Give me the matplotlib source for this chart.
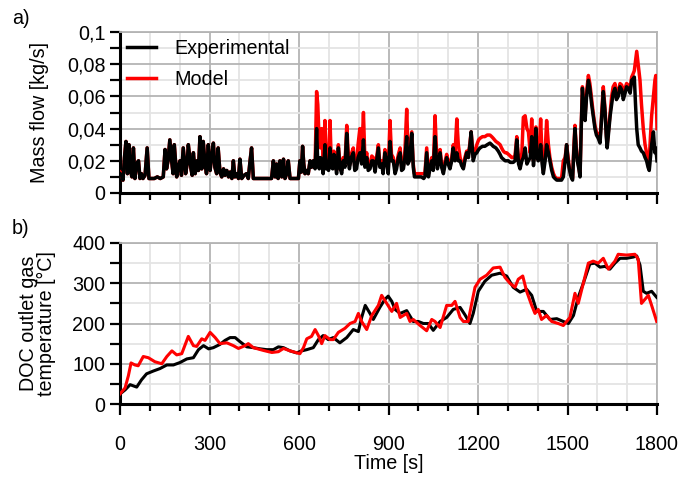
"""
Mass flow and DOC outlet gas temperature: experimental vs model over the cycle.
Saves out.png (679x478 px).
"""

import matplotlib
matplotlib.use("Agg")

import matplotlib.pyplot as plt
from matplotlib.ticker import FuncFormatter, MultipleLocator

# ---- a) mass flow [kg/s] ----
t_flow = [
    0, 5, 10, 15, 20, 25, 30, 35, 40, 45,
    50, 56, 62, 67, 72, 77, 84, 91, 97, 105,
    115, 125, 135, 145, 151, 156, 161, 167, 173, 178,
    182, 190, 195, 201, 206, 212, 220, 225, 229, 238,
    242, 246, 252, 258, 263, 268, 274, 279, 285, 290,
    296, 302, 307, 313, 318, 324, 329, 335, 341, 347,
    352, 358, 364, 369, 375, 380, 385, 392, 397, 402,
    408, 416, 424, 430, 436, 441, 447, 455, 470, 485,
    500, 508, 514, 520, 525, 530, 536, 542, 548, 553,
    559, 564, 570, 580, 590, 598, 603, 608, 612, 616,
    620, 626, 631, 637, 642, 648, 654, 659, 663, 668,
    672, 676, 681, 687, 691, 695, 699, 704, 708, 713,
    717, 721, 726, 732, 737, 743, 748, 754, 760, 765,
    769, 775, 782, 787, 793, 798, 804, 810, 816, 821,
    827, 832, 838, 844, 849, 855, 860, 866, 871, 877,
    882, 888, 893, 899, 905, 910, 916, 922, 927, 933,
    939, 944, 950, 955, 961, 965, 970, 974, 978, 983,
    987, 991, 1000, 1010, 1018, 1022, 1028, 1034, 1040, 1045,
    1050, 1056, 1060, 1064, 1068, 1073, 1078, 1084, 1090, 1095,
    1100, 1106, 1112, 1117, 1123, 1129, 1134, 1140, 1145, 1151,
    1156, 1162, 1168, 1173, 1177, 1184, 1190, 1196, 1202, 1207,
    1215, 1223, 1231, 1240, 1246, 1251, 1260, 1268, 1274, 1279,
    1285, 1291, 1296, 1302, 1308, 1313, 1318, 1324, 1330, 1336,
    1341, 1347, 1352, 1358, 1364, 1369, 1375, 1380, 1386, 1390,
    1394, 1398, 1402, 1406, 1410, 1415, 1419, 1425, 1430, 1436,
    1441, 1447, 1453, 1458, 1464, 1472, 1480, 1486, 1492, 1497,
    1502, 1506, 1512, 1517, 1521, 1525, 1529, 1533, 1538, 1542,
    1546, 1550, 1555, 1559, 1564, 1570, 1575, 1581, 1586, 1592,
    1597, 1603, 1609, 1614, 1620, 1626, 1630, 1633, 1638, 1643,
    1648, 1653, 1659, 1664, 1670, 1676, 1682, 1687, 1693, 1698,
    1704, 1710, 1715, 1720, 1724, 1728, 1732, 1737, 1743, 1748,
    1754, 1760, 1765, 1770, 1774, 1778, 1782, 1788, 1793, 1796,
    1800,
]
flow_exp = [
    0.012, 0.011, 0.008, 0.022, 0.032, 0.012, 0.030, 0.014, 0.010, 0.028,
    0.009, 0.018, 0.020, 0.009, 0.012, 0.009, 0.011, 0.028, 0.009, 0.009,
    0.009, 0.010, 0.009, 0.010, 0.027, 0.015, 0.020, 0.033, 0.020, 0.012,
    0.030, 0.010, 0.016, 0.020, 0.011, 0.028, 0.012, 0.018, 0.030, 0.015,
    0.011, 0.025, 0.012, 0.020, 0.014, 0.035, 0.015, 0.032, 0.018, 0.012,
    0.030, 0.014, 0.022, 0.031, 0.016, 0.012, 0.028, 0.013, 0.010, 0.015,
    0.011, 0.014, 0.010, 0.013, 0.009, 0.020, 0.010, 0.012, 0.009, 0.021,
    0.009, 0.011, 0.012, 0.009, 0.020, 0.028, 0.009, 0.009, 0.009, 0.009,
    0.009, 0.009, 0.020, 0.010, 0.018, 0.009, 0.020, 0.010, 0.021, 0.009,
    0.012, 0.020, 0.009, 0.009, 0.009, 0.009, 0.020, 0.013, 0.029, 0.018,
    0.012, 0.014, 0.012, 0.020, 0.016, 0.020, 0.015, 0.040, 0.018, 0.015,
    0.022, 0.020, 0.012, 0.030, 0.015, 0.018, 0.014, 0.028, 0.016, 0.015,
    0.024, 0.020, 0.012, 0.028, 0.016, 0.012, 0.020, 0.016, 0.037, 0.020,
    0.015, 0.022, 0.025, 0.014, 0.015, 0.022, 0.025, 0.018, 0.033, 0.016,
    0.022, 0.014, 0.015, 0.020, 0.020, 0.013, 0.020, 0.028, 0.016, 0.018,
    0.012, 0.025, 0.020, 0.012, 0.032, 0.020, 0.020, 0.012, 0.015, 0.022,
    0.025, 0.014, 0.015, 0.022, 0.035, 0.018, 0.020, 0.028, 0.037, 0.016,
    0.010, 0.010, 0.010, 0.010, 0.009, 0.010, 0.025, 0.010, 0.016, 0.020,
    0.014, 0.035, 0.022, 0.015, 0.020, 0.025, 0.016, 0.012, 0.018, 0.022,
    0.018, 0.015, 0.020, 0.028, 0.020, 0.025, 0.020, 0.020, 0.017, 0.015,
    0.020, 0.025, 0.022, 0.030, 0.038, 0.020, 0.024, 0.025, 0.027, 0.028,
    0.029, 0.029, 0.030, 0.031, 0.030, 0.029, 0.028, 0.026, 0.024, 0.022,
    0.021, 0.020, 0.020, 0.020, 0.019, 0.019, 0.019, 0.020, 0.033, 0.018,
    0.015, 0.020, 0.022, 0.028, 0.018, 0.020, 0.022, 0.035, 0.017, 0.025,
    0.040, 0.022, 0.020, 0.022, 0.030, 0.018, 0.012, 0.020, 0.030, 0.025,
    0.020, 0.014, 0.010, 0.009, 0.008, 0.008, 0.008, 0.010, 0.020, 0.030,
    0.020, 0.015, 0.010, 0.008, 0.025, 0.040, 0.028, 0.020, 0.015, 0.010,
    0.040, 0.065, 0.050, 0.045, 0.060, 0.070, 0.065, 0.055, 0.048, 0.040,
    0.036, 0.034, 0.031, 0.045, 0.063, 0.050, 0.035, 0.028, 0.038, 0.048,
    0.055, 0.062, 0.065, 0.058, 0.060, 0.066, 0.064, 0.058, 0.062, 0.066,
    0.065, 0.062, 0.070, 0.071, 0.072, 0.055, 0.040, 0.030, 0.028, 0.026,
    0.025, 0.022, 0.020, 0.016, 0.014, 0.022, 0.030, 0.038, 0.025, 0.028,
    0.020,
]
flow_model = [
    0.013, 0.012, 0.008, 0.022, 0.032, 0.012, 0.030, 0.014, 0.010, 0.028,
    0.009, 0.018, 0.020, 0.009, 0.012, 0.009, 0.011, 0.028, 0.009, 0.009,
    0.009, 0.010, 0.009, 0.010, 0.027, 0.015, 0.020, 0.033, 0.020, 0.012,
    0.030, 0.010, 0.016, 0.020, 0.011, 0.028, 0.012, 0.018, 0.030, 0.015,
    0.011, 0.025, 0.012, 0.020, 0.014, 0.035, 0.015, 0.032, 0.018, 0.012,
    0.030, 0.014, 0.022, 0.031, 0.016, 0.012, 0.028, 0.013, 0.010, 0.015,
    0.011, 0.014, 0.010, 0.013, 0.009, 0.020, 0.010, 0.012, 0.009, 0.021,
    0.009, 0.011, 0.012, 0.009, 0.020, 0.028, 0.009, 0.009, 0.009, 0.009,
    0.009, 0.009, 0.020, 0.010, 0.018, 0.009, 0.020, 0.010, 0.021, 0.009,
    0.012, 0.020, 0.009, 0.009, 0.009, 0.009, 0.020, 0.013, 0.029, 0.018,
    0.012, 0.014, 0.012, 0.020, 0.016, 0.020, 0.017, 0.063, 0.055, 0.030,
    0.028, 0.040, 0.020, 0.045, 0.022, 0.025, 0.018, 0.045, 0.020, 0.016,
    0.026, 0.022, 0.014, 0.030, 0.018, 0.014, 0.022, 0.018, 0.042, 0.025,
    0.017, 0.024, 0.028, 0.016, 0.018, 0.030, 0.040, 0.022, 0.050, 0.020,
    0.025, 0.016, 0.017, 0.023, 0.022, 0.016, 0.022, 0.030, 0.018, 0.020,
    0.014, 0.027, 0.022, 0.014, 0.045, 0.024, 0.022, 0.015, 0.017, 0.024,
    0.028, 0.016, 0.017, 0.026, 0.052, 0.030, 0.022, 0.030, 0.038, 0.018,
    0.012, 0.012, 0.012, 0.012, 0.012, 0.012, 0.028, 0.012, 0.018, 0.022,
    0.016, 0.048, 0.030, 0.017, 0.022, 0.027, 0.018, 0.014, 0.020, 0.024,
    0.020, 0.017, 0.022, 0.030, 0.025, 0.046, 0.030, 0.022, 0.019, 0.016,
    0.022, 0.026, 0.024, 0.031, 0.038, 0.022, 0.026, 0.030, 0.033, 0.034,
    0.035, 0.035, 0.036, 0.036, 0.035, 0.034, 0.032, 0.031, 0.030, 0.028,
    0.026, 0.025, 0.025, 0.024, 0.023, 0.022, 0.022, 0.023, 0.035, 0.020,
    0.018, 0.025, 0.047, 0.048, 0.040, 0.038, 0.025, 0.046, 0.020, 0.030,
    0.041, 0.025, 0.022, 0.030, 0.046, 0.022, 0.014, 0.025, 0.045, 0.030,
    0.022, 0.016, 0.012, 0.010, 0.009, 0.009, 0.009, 0.020, 0.022, 0.030,
    0.022, 0.016, 0.011, 0.009, 0.028, 0.042, 0.030, 0.021, 0.016, 0.011,
    0.042, 0.066, 0.052, 0.048, 0.063, 0.073, 0.068, 0.058, 0.050, 0.042,
    0.038, 0.036, 0.033, 0.048, 0.066, 0.052, 0.037, 0.030, 0.040, 0.050,
    0.060, 0.066, 0.068, 0.062, 0.063, 0.068, 0.067, 0.062, 0.065, 0.068,
    0.067, 0.065, 0.072, 0.074, 0.076, 0.082, 0.088, 0.080, 0.070, 0.055,
    0.040, 0.030, 0.025, 0.020, 0.020, 0.035, 0.048, 0.060, 0.070, 0.073,
    0.040,
]

# ---- b) DOC outlet gas temperature [C] ----
t_temp_exp = [
    0, 17, 34, 45, 56, 72, 89, 112, 134, 157, 179, 201, 224, 246, 263, 280,
    297, 313, 335, 352, 369, 386, 402, 425, 447, 470, 492, 514, 531, 548,
    570, 592, 609, 626, 648, 665, 681, 698, 715, 737, 760, 782, 799, 810,
    822, 838, 849, 871, 888, 899, 911, 922, 939, 961, 983, 1000, 1017, 1034,
    1050, 1073, 1095, 1117, 1140, 1156, 1173, 1184, 1201, 1223, 1246, 1274,
    1296, 1318, 1341, 1363, 1380, 1397, 1419, 1441, 1464, 1486, 1503, 1520,
    1536, 1553, 1575, 1592, 1609, 1626, 1642, 1659, 1676, 1698, 1720, 1732,
    1743, 1754, 1765, 1782, 1799,
]
temp_exp = [
    25, 35, 48, 45, 42, 60, 75, 82, 88, 97, 97, 103, 112, 115, 135, 145,
    137, 140, 148, 158, 165, 165, 155, 142, 140, 137, 135, 135, 142, 140,
    132, 127, 132, 135, 140, 160, 170, 160, 165, 152, 165, 185, 180, 215,
    245, 225, 210, 240, 260, 268, 255, 235, 225, 232, 205, 205, 200, 200,
    183, 205, 215, 235, 240, 222, 200, 225, 280, 305, 320, 325,
    318, 290, 278, 285, 270, 230, 230, 210, 212, 205, 200, 220,
    265, 300, 348, 350, 340, 342, 335, 350, 362, 362, 365, 368,
    345, 280, 275, 280, 265,
]
t_temp_model = [
    0, 17, 28, 37, 50, 61, 78, 95, 117, 140, 157, 174, 190, 207, 229, 246,
    257, 274, 285, 302, 319, 335, 358, 380, 397, 419, 430, 447, 481, 509,
    531, 548, 570, 603, 615, 626, 642, 654, 665, 676, 687, 704, 715, 732,
    754, 771, 788, 799, 810, 827, 844, 866, 877, 894, 911, 927, 939, 961,
    972, 983, 1006, 1028, 1045, 1056, 1073, 1095, 1112, 1123, 1140, 1151,
    1167, 1179, 1190, 1207, 1229, 1251, 1274, 1290, 1307, 1324, 1335, 1350,
    1363, 1380, 1391, 1402, 1413, 1430, 1447, 1469, 1486, 1508, 1525, 1536,
    1553, 1570, 1586, 1603, 1620, 1637, 1659, 1670, 1698, 1726, 1737, 1748,
    1771, 1782, 1799,
]
temp_model = [
    25, 40, 70, 102, 97, 95, 118, 115, 105, 100, 118, 132, 122, 125, 168, 145,
    143, 162, 158, 178, 165, 150, 152, 145, 138, 145, 150, 140, 133, 128,
    130, 138, 132, 125, 140, 162, 168, 185, 170, 150, 170, 160, 160, 178,
    188, 200, 205, 225, 205, 185, 220, 245, 270, 250, 230, 250, 215, 225,
    205, 210, 195, 182, 210, 205, 190, 245, 245, 255, 215, 205,
    205, 250, 290, 310, 320, 338, 340, 315, 300, 290, 310, 318,
    280, 245, 225, 235, 210, 220, 205, 200, 195, 215, 275, 250,
    300, 350, 355, 350, 362, 335, 355, 372, 370, 372, 360, 250,
    270, 245, 205,
]

FONT = "Liberation Sans"
FS = 14.2
MAJOR_GRID = "#b4b4b4"
MINOR_GRID = "#e4e4e4"

plt.rcParams["font.family"] = [FONT, "DejaVu Sans"]
plt.rcParams["font.size"] = FS


def style_axes(ax):
    ax.xaxis.set_major_locator(MultipleLocator(300))
    ax.xaxis.set_minor_locator(MultipleLocator(100))
    ax.grid(True, which="major", color=MAJOR_GRID, lw=1.3, zorder=0)
    ax.grid(True, which="minor", color=MINOR_GRID, lw=1.3, zorder=0)
    ax.set_axisbelow(True)
    for side in ("top", "right"):
        ax.spines[side].set_color(MAJOR_GRID)
        ax.spines[side].set_linewidth(1.3)
    for side in ("left", "bottom"):
        ax.spines[side].set_color("black")
        ax.spines[side].set_linewidth(2.2)
    ax.tick_params(which="both", direction="out", width=1.6, color="black",
                   top=False, right=False, labelsize=FS)
    ax.tick_params(axis="x", which="major", length=8)
    ax.tick_params(axis="x", which="minor", length=5)
    ax.tick_params(axis="y", which="both", length=7)
    ax.set_xlim(0, 1800)


fig = plt.figure(figsize=(6.79, 4.78), dpi=100)
ax1 = fig.add_axes([120 / 679, 1 - 193 / 478, 537 / 679, 161 / 478])
ax2 = fig.add_axes([120 / 679, 1 - 404 / 478, 537 / 679, 161 / 478])

# a) mass flow
ax1.plot(t_flow, flow_model, color="#ff0000", lw=2.5, label="Model", zorder=3)
ax1.plot(t_flow, flow_exp, color="black", lw=2.5, label="Experimental", zorder=4)
style_axes(ax1)
ax1.set_ylim(0, 0.1)
ax1.yaxis.set_major_locator(MultipleLocator(0.02))
ax1.yaxis.set_minor_locator(MultipleLocator(0.01))
ax1.yaxis.set_major_formatter(
    FuncFormatter(lambda v, _: "0" if abs(v) < 1e-9 else f"{v:.2f}".rstrip("0").replace(".", ",")))
ax1.tick_params(axis="x", labelbottom=False)
ax1.set_ylabel("Mass flow [kg/s]", fontsize=FS)
ax1.yaxis.set_label_coords((49 - 120) / 537, 0.5)
handles, labels = ax1.get_legend_handles_labels()
ax1.legend(handles[::-1], labels[::-1], loc="upper left", frameon=False,
           fontsize=FS, handlelength=1.5, handletextpad=0.9, labelspacing=0.62,
           borderaxespad=0.0, borderpad=0.35)

# b) temperature
ax2.plot(t_temp_exp, temp_exp, color="black", lw=2.2, zorder=3)
ax2.plot(t_temp_model, temp_model, color="#ff0000", lw=2.2, zorder=4)
style_axes(ax2)
ax2.set_ylim(0, 400)
ax2.yaxis.set_major_locator(MultipleLocator(100))
ax2.yaxis.set_minor_locator(MultipleLocator(50))
ax2.tick_params(axis="x", which="major", pad=14)
ax2.set_ylabel("DOC outlet gas\ntemperature [°C]", fontsize=FS, linespacing=0.95)
ax2.yaxis.set_label_coords((56 - 120) / 537, 0.5)
ax2.set_xlabel("Time [s]", fontsize=FS, labelpad=0)

fig.text(12 / 679, 1 - 18 / 478, "a)", fontsize=FS, va="center", ha="left")
fig.text(12 / 679, 1 - 228 / 478, "b)", fontsize=FS, va="center", ha="left")

fig.savefig("out.png", dpi=100)
plt.close(fig)
